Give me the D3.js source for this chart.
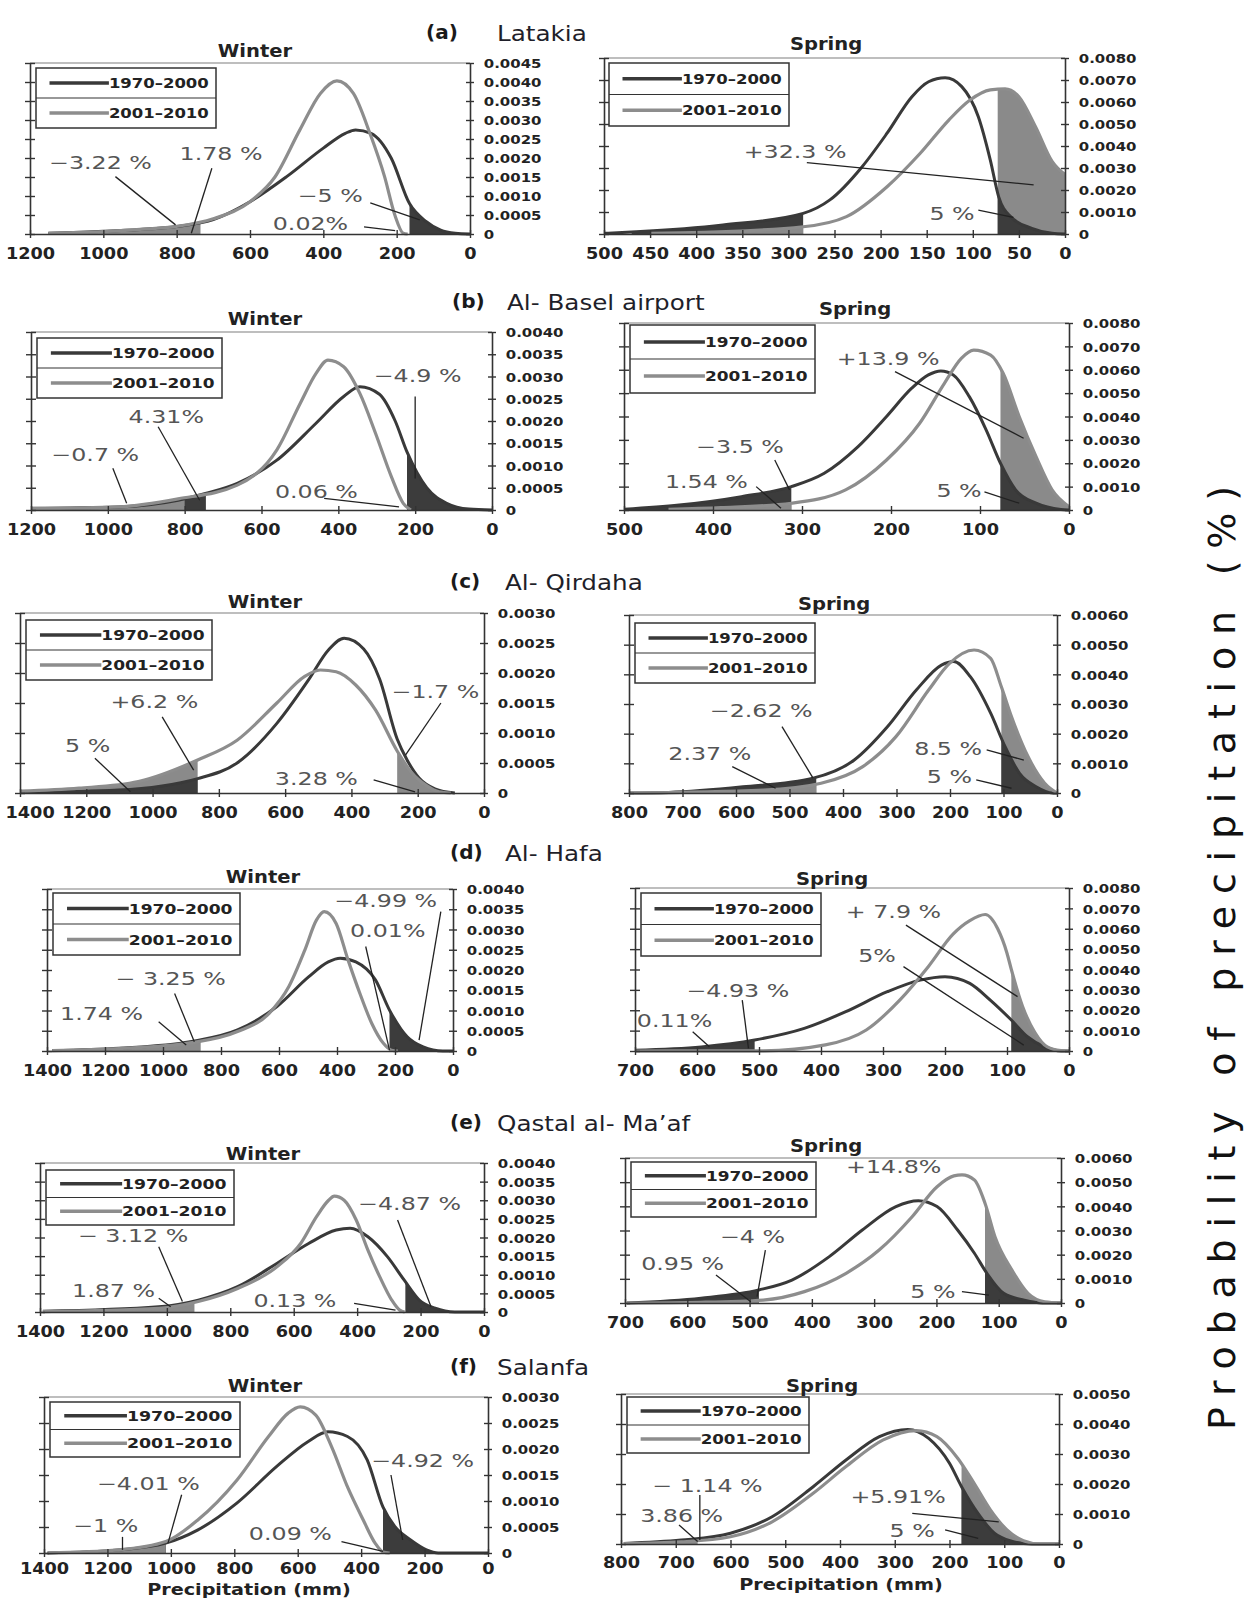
<!DOCTYPE html>
<html><head><meta charset="utf-8">
<script src="https://cdn.jsdelivr.net/npm/d3@7"></script>
<style>body{margin:0;background:#fff} svg{display:block}</style>
</head><body>
<svg id="chart" width="1245" height="1599"></svg>
<script>
// ---------------- DATA ----------------
const stationTags = ["(a)","(b)","(c)","(d)","(e)","(f)"];
const stationNames = ["Latakia","Al- Basel airport","Al- Qirdaha","Al- Hafa","Qastal al- Ma’af","Salanfa"];
const seasons = ["Winter","Spring"];
const periods = ["1970–2000","2001–2010"];
const axisTitle = "Precipitation (mm)";
const sideTitle = "Probability of precipitation (%)";

const winterXMax = [1200,1200,1400,1400,1400,1400];
const springXMax = [500,500,800,700,700,800];
const winterXStep = [200,200,200,200,200,200];
const springXStep = [50,100,100,100,100,100];
const winterYMax = [0.0045,0.004,0.003,0.004,0.004,0.003];
const springYMax = [0.008,0.008,0.006,0.008,0.006,0.005];
const winterYStep = [0.0005,0.0005,0.0005,0.0005,0.0005,0.0005];
const springYStep = [0.001,0.001,0.001,0.001,0.001,0.001];

// density curves [precipitation mm, probability]
const aWinterOld = [[1150,0.00002],[1000,0.00007],[900,0.00012],[800,0.0002],[700,0.00038],[600,0.00085],[500,0.00151],[400,0.00226],[340,0.00265],[312,0.00274],[270,0.00265],[215,0.002],[165,0.0008],[120,0.00033],[80,0.0001],[40,0.00002],[0,0]];
const aWinterNew = [[1150,0.00002],[1000,0.00006],[900,0.00012],[800,0.0002],[700,0.0004],[600,0.00085],[532,0.0015],[464,0.00274],[408,0.0037],[363,0.00403],[318,0.0037],[273,0.00265],[233,0.00151],[205,0.0005],[182,0.00002],[170,0]];
const aSpringOld = [[500,0.00003],[465,0.0001],[371,0.00041],[284,0.00094],[255,0.00155],[220,0.00306],[193,0.00458],[166,0.00624],[148,0.00692],[130,0.0071],[112,0.0067],[94,0.00533],[81,0.00336],[72,0.0017],[59,0.00079],[36,0.00026],[14,0.00003],[0,0]];
const aSpringNew = [[450,0.00003],[416,0.00005],[284,0.00033],[237,0.00079],[193,0.00215],[157,0.00367],[126,0.00518],[103,0.00609],[81,0.00655],[65,0.0066],[50,0.00624],[32,0.00488],[14,0.0033],[0,0.0027]];

const bWinterOld = [[1200,0.00004],[972,0.00007],[817,0.00022],[746,0.00037],[663,0.0006],[560,0.00112],[458,0.00195],[386,0.00255],[344,0.00277],[293,0.0026],[252,0.002],[221,0.0013],[170,0.0005],[118,0.00015],[60,0.00002],[0,0]];
const bWinterNew = [[1200,0.00003],[972,0.00007],[817,0.00025],[663,0.00056],[560,0.00135],[499,0.0024],[458,0.00307],[427,0.00337],[386,0.00322],[344,0.00262],[303,0.00172],[262,0.00075],[231,0.00015],[211,0]];
const bSpringOld = [[500,0.00003],[438,0.00021],[368,0.00057],[312,0.001],[275,0.00157],[237,0.00271],[205,0.004],[177,0.0052],[158,0.00578],[144,0.00595],[130,0.00578],[112,0.00485],[93,0.00342],[77,0.002],[60,0.00086],[37,0.00029],[9,0.00002],[0,0]];
const bSpringNew = [[450,0.00003],[391,0.0001],[312,0.00029],[251,0.00086],[205,0.00214],[168,0.0037],[140,0.00542],[121,0.00649],[107,0.00684],[88,0.00663],[74,0.00585],[56,0.004],[37,0.00228],[19,0.00086],[0,0.00014]];

const cWinterOld = [[1400,0.00001],[1103,0.00005],[864,0.00024],[745,0.0005],[625,0.00116],[530,0.00188],[470,0.00238],[422,0.00258],[363,0.0024],[315,0.0019],[262,0.0009],[232,0.00055],[196,0.00025],[148,0.00007],[88,0]];
const cWinterNew = [[1400,0.00003],[1222,0.00008],[1043,0.00019],[864,0.00055],[745,0.00088],[625,0.0015],[542,0.00194],[494,0.00205],[446,0.00202],[387,0.0018],[327,0.00138],[262,0.0007],[220,0.00035],[172,0.00012],[136,0.00002],[100,0]];
const cSpringOld = [[800,0],[726,0.00002],[587,0.00021],[456,0.0005],[379,0.00111],[317,0.00223],[263,0.00347],[216,0.00431],[193,0.00443],[162,0.00392],[124,0.00269],[97,0.00156],[70,0.00066],[39,0.00021],[8,0],[0,0]];
const cSpringNew = [[800,0],[549,0.0001],[441,0.00033],[363,0.00089],[301,0.0019],[240,0.00347],[201,0.00437],[155,0.00482],[124,0.00454],[104,0.00358],[85,0.00257],[54,0.00122],[23,0.00033],[0,0]];

const dWinterOld = [[1382,0.00001],[1151,0.00007],[906,0.00023],[743,0.00052],[607,0.0011],[498,0.00183],[430,0.0022],[389,0.00229],[335,0.0022],[267,0.00175],[219,0.00101],[158,0.00035],[103,0.0001],[35,0],[0,0]];
const dWinterNew = [[1382,0.00001],[1151,0.00006],[906,0.0002],[743,0.00048],[634,0.00093],[566,0.00159],[511,0.00249],[471,0.00323],[444,0.00344],[403,0.00315],[362,0.00225],[321,0.00142],[280,0.00068],[240,0.00019],[212,0.00002],[190,0]];
const dSpringOld = [[700,0.00004],[593,0.0002],[507,0.00054],[427,0.00111],[360,0.00193],[293,0.00291],[240,0.00348],[200,0.00365],[160,0.00332],[127,0.0025],[93,0.00152],[67,0.0007],[40,0.00021],[13,0],[0,0]];
const dSpringNew = [[700,0],[493,0.00001],[393,0.0003],[327,0.00103],[273,0.0025],[227,0.00414],[187,0.00574],[160,0.0064],[135,0.0067],[115,0.006],[100,0.0048],[93,0.004],[75,0.0022],[55,0.0009],[35,0.0002],[13,0.00002],[0,0]];

const eWinterOld = [[1391,0.00002],[1026,0.00014],[901,0.00032],[777,0.00068],[652,0.00131],[553,0.00184],[466,0.0022],[422,0.00225],[366,0.00202],[304,0.00148],[252,0.00086],[204,0.00032],[154,0.0001],[92,0],[0,0]];
const eWinterNew = [[1391,0.00001],[1026,0.0001],[901,0.00028],[777,0.00063],[652,0.00122],[578,0.00184],[528,0.00256],[490,0.003],[472,0.00311],[441,0.003],[403,0.00247],[366,0.00166],[329,0.00095],[291,0.00032],[266,0.00005],[250,0]];
const eSpringOld = [[697,0],[578,0.0002],[485,0.00054],[432,0.00095],[372,0.00192],[319,0.00302],[265,0.00399],[229,0.00423],[199,0.00399],[166,0.00302],[139,0.00206],[119,0.00123],[92,0.0004],[59,0.00012],[30,0],[0,0]];
const eSpringNew = [[697,0],[578,0.00003],[478,0.00012],[412,0.00047],[345,0.00123],[292,0.00219],[239,0.00357],[199,0.00481],[172,0.00526],[159,0.0053],[139,0.00509],[122,0.00413],[106,0.00274],[79,0.00137],[53,0.0004],[26,0.00005],[0,0]];

const fWinterOld = [[1389,0],[1165,0.00006],[1016,0.00019],[916,0.00044],[792,0.00096],[667,0.00166],[568,0.00214],[505,0.00233],[443,0.00224],[381,0.00179],[331,0.00088],[294,0.00051],[244,0.00025],[194,0.00006],[157,0],[0,0]];
const fWinterNew = [[1389,0],[1165,0.00006],[1016,0.00022],[916,0.00063],[792,0.0014],[692,0.00224],[630,0.00269],[592,0.00281],[543,0.00265],[493,0.00204],[443,0.00127],[393,0.00063],[356,0.00019],[331,0.00002],[310,0]];
const fSpringOld = [[795,0.00002],[690,0.00013],[600,0.00036],[524,0.00091],[449,0.00191],[389,0.0028],[328,0.00358],[276,0.00382],[238,0.00352],[200,0.00269],[178,0.00191],[148,0.00102],[118,0.00036],[88,0.0001],[50,0],[0,0]];
const fSpringNew = [[795,0.00001],[690,0.00007],[600,0.00024],[524,0.00074],[449,0.00169],[389,0.00258],[321,0.00347],[261,0.00378],[223,0.00358],[185,0.00286],[155,0.00202],[125,0.00113],[95,0.00047],[65,0.00011],[35,0],[0,0]];

// shaded tails: [series, from mm, to mm]
const aWinterFills = [["new",1150,735],["old",165,0]];
const aSpringFills = [["old",470,284],["new",420,284],["new",73,0],["old",73,0]];
const bWinterFills = [["new",1150,745],["old",800,745],["old",221,0]];
const bSpringFills = [["old",500,312],["new",400,312],["new",77,0],["old",77,0]];
const cWinterFills = [["new",1400,864],["old",1400,864],["new",262,100]];
const cSpringFills = [["old",720,450],["new",720,450],["new",104,0],["old",104,0]];
const dWinterFills = [["new",1350,870],["old",219,0]];
const dSpringFills = [["old",700,507],["new",93,0],["old",93,0]];
const eWinterFills = [["new",1200,913],["old",248,0]];
const eSpringFills = [["old",697,485],["new",600,485],["new",122,0],["old",122,0]];
const fWinterFills = [["old",1300,1016],["new",1389,1016],["old",331,0]];
const fSpringFills = [["new",795,660],["new",178,0],["old",178,0]];

// annotations: [text, text mm, text prob, leader start mm, prob, leader end mm, prob]
const aWinterNotes = [["−3.22 %",1148,0.0017,967,0.00151,803,0.00024],["1.78 %",792,0.00195,704,0.00173,760,0.00002],["−5 %",470,0.00085,272,0.00082,137,0.00037],["0.02%",538,0.0001,289,0.00019,204,0.00009]];
const aSpringNotes = [["+32.3 %",348.5,0.00345,280,0.00324,34,0.00223],["5 %",147,0.00064,94,0.00109,56,0.00076]];
const bWinterNotes = [["−0.7 %",1147,0.00109,987,0.00094,951,0.00015],["4.31%",946,0.00195,869,0.00187,761,0.00022],["−4.9 %",308,0.00288,200,0.00255,200,0.00071],["0.06 %",565,0.00026,437,0.00026,242,0.00007]];
const bSpringNotes = [["+13.9 %",261,0.0062,195.5,0.00592,51,0.00307],["−3.5 %",419,0.00243,330.6,0.00214,314,0.00086],["1.54 %",454,0.00093,351.5,0.001,323.6,0.00007],["5 %",149,0.00057,95,0.00078,56,0.00029]];
const cWinterNotes = [["+6.2 %",1127,0.00141,971,0.00127,876,0.00038],["5 %",1264,0.00069,1174,0.00058,1067,0.00002],["−1.7 %",279,0.00158,130,0.0015,237,0.00063],["3.28 %",631,0.00013,333,0.00022,208,0.00002]];
const cSpringNotes = [["−2.62 %",649,0.00257,514,0.00224,456,0.0005],["2.37 %",726.5,0.00111,607,0.00089,526,0.00016],["8.5 %",267,0.00128,131.5,0.00145,62,0.00111],["5 %",243.5,0.00033,151,0.00044,85,0.00016]];
const dWinterNotes = [["−4.99  %",409.5,0.00356,42,0.00344,117,0.00027],["0.01%",355,0.00282,301,0.00258,219,0.00002],["− 3.25  %",1164,0.00163,960,0.00142,892,0.00023],["1.74 %",1355,0.00077,1015,0.00072,920,0.00015]];
const dSpringNotes = [["+ 7.9 %",360,0.00651,263,0.00618,83,0.00267],["5%",340,0.00438,267,0.00414,73,0.00029],["−4.93 %",617,0.00267,527,0.0025,517,0.00013],["0.11%",697,0.00119,607,0.00095,580,0.00021]];
const eWinterNotes = [["− 3.12 %",1280.5,0.00189,1025.6,0.00175,951,0.00028],["1.87 %",1299,0.00041,1025.6,0.00037,988,0.00014],["−4.87 %",397,0.00274,272.5,0.00247,167,0.00014],["0.13 %",727,0.00014,409.5,0.00023,279,0.00005]];
const eSpringNotes = [["+14.8%",345,0.00537,null,null,null,null],["−4 %",547.6,0.00247,474.6,0.00219,488,0.00026],["0.95 %",674,0.00137,554,0.00116,498,0.00005],["5 %",242,0.0002,159,0.00047,115.7,0.00033]];
const fWinterNotes = [["−4.01 %",1233,0.00121,966,0.00112,1009,0.00019],["−1 %",1308,0.00041,1152.5,0.00031,1152.5,0.00006],["−4.92 %",368.5,0.00166,306,0.0015,269,0.00025],["0.09 %",754,0.00025,462,0.00022,331,0.00003]];
const fSpringNotes = [["− 1.14 %",743,0.00174,656,0.00163,656,0.00013],["3.86 %",765,0.00074,694,0.00063,660,0.00008],["+5.91%",381,0.00136,268,0.00102,110,0.00074],["5 %",309.6,0.00024,208,0.00047,147.6,0.00019]];

// ---------------- LAYOUT ----------------
const frames = [ // [left, right, top, bottom]
  [[30,470,63,234],[31,492,332,510],[20,484,613,793],[47,453,889,1051],[40,484,1163,1312],[44,488,1397,1553]],
  [[604,1065,58,234],[624,1069,323,510],[629,1057,615,793],[635,1069,888,1051],[625,1061,1158,1303],[621,1059,1394,1544]]
];
const labelOffset = [[25,25,25,25,25,21],[25,25,25,25,25,24]];
const legendBoxes = [
  [[36,216,68,128],[37,222,338,398],[26,212,620,680],[53,240,893,955],[46,234,1170,1225],[50,240,1402,1457]],
  [[609,789,63,126],[630,815,325,393],[635,815,623,683],[641,821,893,956],[631,816,1162,1217],[627,809,1397,1453]]
];
const seasonTitlePos = [
  [[255,57],[265,325],[265,608],[263,883],[263,1160],[265,1392]],
  [[826,50],[855,315],[834,610],[832,885],[826,1152],[822,1392]]
];
const axisTitlePos = [[249,1595],[841,1590]];
const stationTagX = [426,452,450,450,450,450];
const stationNameX = [497,507,505,505,497,497];
const stationBase = [41,310,590,861,1131,1375];

const curvesOld = [[aWinterOld,bWinterOld,cWinterOld,dWinterOld,eWinterOld,fWinterOld],[aSpringOld,bSpringOld,cSpringOld,dSpringOld,eSpringOld,fSpringOld]];
const curvesNew = [[aWinterNew,bWinterNew,cWinterNew,dWinterNew,eWinterNew,fWinterNew],[aSpringNew,bSpringNew,cSpringNew,dSpringNew,eSpringNew,fSpringNew]];
const fillsAll = [[aWinterFills,bWinterFills,cWinterFills,dWinterFills,eWinterFills,fWinterFills],[aSpringFills,bSpringFills,cSpringFills,dSpringFills,eSpringFills,fSpringFills]];
const notesAll = [[aWinterNotes,bWinterNotes,cWinterNotes,dWinterNotes,eWinterNotes,fWinterNotes],[aSpringNotes,bSpringNotes,cSpringNotes,dSpringNotes,eSpringNotes,fSpringNotes]];
const xMaxAll = [winterXMax, springXMax], xStepAll = [winterXStep, springXStep];
const yMaxAll = [winterYMax, springYMax], yStepAll = [winterYStep, springYStep];

const DARK = "#393939", GRAY = "#8d8d8d", DARKFILL = "#3c3c3c", GRAYFILL = "#8a8a8a";
const FONT = "DejaVu Sans";

const svg = d3.select("#chart");
svg.append("rect").attr("width",1245).attr("height",1599).attr("fill","#fff");
const defs = svg.append("defs");

function stretchText(sel, x, y, sx, txt, anchor) {
  return sel.append("text").attr("transform",`translate(${x},${y}) scale(${sx},1)`)
    .attr("text-anchor", anchor || "start").text(txt);
}

for (let s = 0; s < 2; s++) {
  for (let i = 0; i < 6; i++) {
    const L = frames[s][i];
    const xMax = xMaxAll[s][i], yMax = yMaxAll[s][i];
    const xStep = xStepAll[s][i], yStep = yStepAll[s][i];
    const x = d3.scaleLinear().domain([xMax, 0]).range([L[0], L[1]]);
    const y = d3.scaleLinear().domain([0, yMax]).range([L[3], L[2]]);
    const g = svg.append("g");
    const sortByMm = arr => arr.slice().sort((a,b)=>b[0]-a[0]);
    const series = { old: sortByMm(curvesOld[s][i]), new: sortByMm(curvesNew[s][i]) };

    g.append("line").attr("x1",L[0]).attr("x2",L[1]).attr("y1",L[2]).attr("y2",L[2])
      .attr("stroke","#a8a8a8").attr("stroke-width",1.5);

    const area = d3.area().x(d=>x(d[0])).y0(y(0)).y1(d=>y(d[1])).curve(d3.curveMonotoneX);
    const line = d3.line().x(d=>x(d[0])).y(d=>y(d[1])).curve(d3.curveMonotoneX);

    fillsAll[s][i].forEach((f,k) => {
      const id = `clip${s}_${i}_${k}`;
      defs.append("clipPath").attr("id",id).append("rect")
        .attr("x", x(f[1])).attr("width", x(f[2]) - x(f[1]))
        .attr("y", L[2]).attr("height", L[3] - L[2]);
      g.append("path").datum(series[f[0]]).attr("d", area)
        .attr("fill", f[0] === "old" ? DARKFILL : GRAYFILL)
        .attr("clip-path", `url(#${id})`);
    });

    g.append("path").datum(series.old).attr("d", line).attr("fill","none")
      .attr("stroke", DARK).attr("stroke-width", 3);
    g.append("path").datum(series.new).attr("d", line).attr("fill","none")
      .attr("stroke", GRAY).attr("stroke-width", 3.2);

    const yt = d3.range(0, Math.round(yMax/yStep)+1).map(k => k*yStep);
    const xt = d3.range(0, Math.round(xMax/xStep)+1).map(k => k*xStep);
    const fmtY = v => v === 0 ? "0" : d3.format(".4f")(v);

    const XS = 1.18;
    const ax = g.append("g").attr("transform",`translate(0,${L[3]})`)
      .call(d3.axisBottom(x).tickValues(xt).tickSizeOuter(0).tickFormat(d3.format("d")));
    ax.selectAll(".tick line").attr("y1",-4).attr("y2",4);
    ax.selectAll(".tick text").attr("y",labelOffset[s][i]).attr("dy",null)
      .attr("transform",`scale(${XS},1)`)
      .style("font-family",FONT).style("font-weight","bold").style("font-size","15px").attr("fill","#222");
    ax.selectAll(".tick text").filter(d => d === xMax && L[0] < 28)
      .attr("text-anchor","start").attr("x", (5 - L[0]) / XS);

    const ar = g.append("g").attr("transform",`translate(${L[1]},0)`)
      .call(d3.axisRight(y).tickValues(yt).tickSizeOuter(0).tickFormat(fmtY));
    ar.selectAll(".tick line").attr("x1",-4).attr("x2",4);
    ar.selectAll(".tick text").attr("x",12).attr("dy","0.36em")
      .attr("transform","scale(1.15,1)")
      .style("font-family",FONT).style("font-weight","bold").style("font-size","13px").attr("fill","#222");

    const al = g.append("g").attr("transform",`translate(${L[0]},0)`)
      .call(d3.axisLeft(y).tickValues(yt).tickSizeOuter(0).tickFormat(""));
    al.selectAll(".tick line").attr("x1",-5).attr("x2",5);

    [ax, ar, al].forEach(a => {
      a.select(".domain").attr("stroke","#333").attr("stroke-width",1.6);
      a.selectAll(".tick line").attr("stroke","#333").attr("stroke-width",1.4);
    });

    const tp = seasonTitlePos[s][i];
    stretchText(g, tp[0], tp[1], 1.15, seasons[s], "middle")
      .style("font-family",FONT).style("font-weight","bold").style("font-size","17px").attr("fill","#222");

    const lb = legendBoxes[s][i];
    const lw = lb[1]-lb[0], lh = lb[3]-lb[2];
    g.append("rect").attr("x",lb[0]).attr("y",lb[2]).attr("width",lw).attr("height",lh)
      .attr("fill","#fff").attr("stroke","#333").attr("stroke-width",1.5);
    g.append("line").attr("x1",lb[0]).attr("x2",lb[1]).attr("y1",lb[2]+lh/2).attr("y2",lb[2]+lh/2)
      .attr("stroke","#333").attr("stroke-width",1.2);
    periods.forEach((p,k) => {
      const yy = lb[2] + lh*(k ? 0.75 : 0.25);
      g.append("line").attr("x1",lb[0]+0.075*lw).attr("x2",lb[0]+0.405*lw).attr("y1",yy).attr("y2",yy)
        .attr("stroke", k ? GRAY : DARK).attr("stroke-width",3.5);
      g.append("text").attr("x",lb[0]+0.405*lw).attr("y",yy).attr("dy","0.36em")
        .attr("textLength",0.555*lw).attr("lengthAdjust","spacingAndGlyphs")
        .style("font-family",FONT).style("font-weight","bold").style("font-size","14px").attr("fill","#222")
        .text(p);
    });

    notesAll[s][i].forEach(n => {
      if (n[3] !== null) {
        g.append("line").attr("x1",x(n[3])).attr("y1",y(n[4])).attr("x2",x(n[5])).attr("y2",y(n[6]))
          .attr("stroke","#222").attr("stroke-width",1.3);
      }
      stretchText(g, x(n[1]), y(n[2]), 1.32, n[0])
        .style("font-family",FONT).style("font-size","18px").attr("fill","#555");
    });

    if (i === 5) {
      stretchText(g, axisTitlePos[s][0], axisTitlePos[s][1], 1.2, axisTitle, "middle")
        .style("font-family",FONT).style("font-weight","bold").style("font-size","16px").attr("fill","#222");
    }
  }
}

stationTags.forEach((t,i) => {
  svg.append("text").attr("x",stationTagX[i]).attr("y",stationBase[i]-2)
    .style("font-family",FONT).style("font-weight","bold").style("font-size","20px").attr("fill","#1a1a1a").text(t);
  stretchText(svg, stationNameX[i], stationBase[i], 1.12, stationNames[i])
    .style("font-family",FONT).style("font-size","22px").attr("fill","#1f1f2a");
});

svg.append("text").attr("transform","translate(1235,958) rotate(-90)")
  .attr("text-anchor","middle").attr("textLength",944).attr("lengthAdjust","spacing")
  .style("font-family",FONT).style("font-size","38px").attr("fill","#111").text(sideTitle);
</script>
</body></html>
